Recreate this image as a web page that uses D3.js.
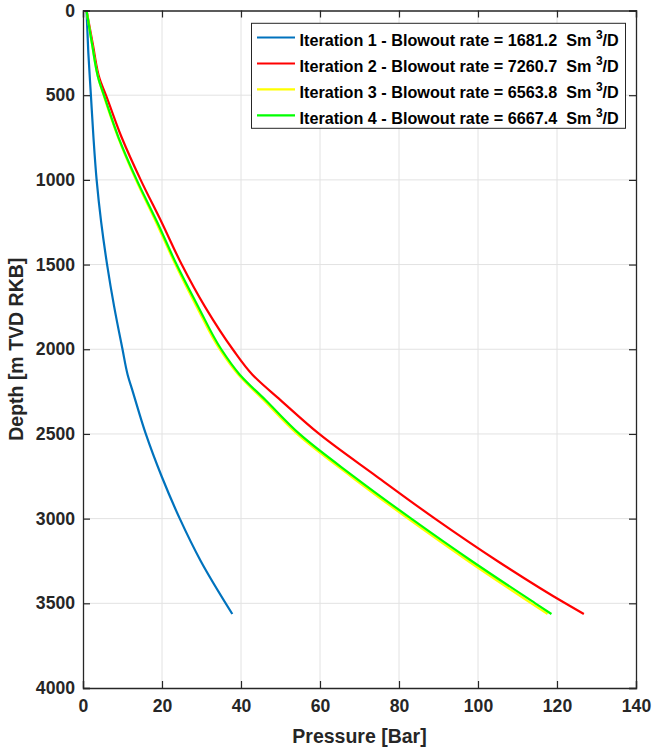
<!DOCTYPE html>
<html>
<head>
<meta charset="utf-8">
<script src="https://cdn.jsdelivr.net/npm/d3@7"></script>
<style>
  html, body { margin: 0; padding: 0; background: #fff; }
  svg { display: block; font-family: "Liberation Sans", Arial, Helvetica, sans-serif; }
</style>
</head>
<body>
<svg id="chart" width="652" height="749"></svg>
<script>
// ---- Data ----
const xTicks = [0, 20, 40, 60, 80, 100, 120, 140];
const yTicks = [0, 500, 1000, 1500, 2000, 2500, 3000, 3500, 4000];

const depthIter1 = [0, 250, 500, 750, 1000, 1250, 1500, 1750, 2000, 2150, 2250, 2500, 2750, 3000, 3250, 3563];
const pressureIter1 = [0.9, 1.35, 2.0, 2.65, 3.45, 4.6, 6.1, 7.9, 10.0, 11.3, 12.6, 15.9, 19.9, 24.5, 29.8, 37.8];

const depthIter = [0, 200, 410, 500, 750, 1000, 1250, 1500, 1750, 2000, 2150, 2300, 2500, 2750, 3000, 3250, 3500, 3563];
const pressureIter2 = [0.9, 2.5, 4.3, 5.8, 9.8, 14.6, 19.9, 25.0, 30.9, 37.9, 42.9, 50.0, 59.8, 74.3, 89.1, 104.9, 122.1, 126.8];
const pressureIter3 = [0.9, 2.3, 4.0, 5.2, 8.9, 13.4, 18.5, 23.4, 28.8, 34.6, 39.3, 45.7, 54.2, 67.8, 82.3, 97.5, 113.5, 117.6];
const pressureIter4 = [0.9, 2.3, 4.0, 5.3, 9.0, 13.6, 18.8, 23.7, 29.2, 35.0, 39.7, 46.2, 54.8, 68.5, 83.1, 98.4, 114.5, 118.6];

const seriesNames = ["Iteration 1", "Iteration 2", "Iteration 3", "Iteration 4"];
const blowoutRates = ["1681.2", "7260.7", "6563.8", "6667.4"];
const seriesColors = ["#0072BD", "#FF0000", "#FFFF00", "#00FF00"];

const series = [
  { depth: depthIter1, p: pressureIter1 },
  { depth: depthIter, p: pressureIter2 },
  { depth: depthIter, p: pressureIter3 },
  { depth: depthIter, p: pressureIter4 }
];

// ---- Layout ----
const L = 83, R = 636, T = 10.5, B = 688;
const svg = d3.select("#chart");
const x = d3.scaleLinear().domain([0, 140]).range([L, R]);
const y = d3.scaleLinear().domain([0, 4000]).range([T, B]);
const axisColor = "#262626";
const tickFont = 17.6;

// grid
const g = svg.append("g");
g.selectAll(".gx").data(xTicks.slice(1, -1)).enter().append("line")
  .attr("x1", d => x(d)).attr("x2", d => x(d)).attr("y1", T).attr("y2", B)
  .attr("stroke", "#e2e2e2").attr("stroke-width", 1);
g.selectAll(".gy").data(yTicks.slice(1, -1)).enter().append("line")
  .attr("y1", d => y(d)).attr("y2", d => y(d)).attr("x1", L).attr("x2", R)
  .attr("stroke", "#e2e2e2").attr("stroke-width", 1);

// lines
const line = d3.line().x(d => x(d[0])).y(d => y(d[1])).curve(d3.curveMonotoneY);
series.forEach((s, i) => {
  const pts = s.depth.map((dep, k) => [s.p[k], dep]);
  svg.append("path").datum(pts)
    .attr("d", line).attr("fill", "none")
    .attr("stroke", seriesColors[i]).attr("stroke-width", 2.2)
    .attr("stroke-linejoin", "round");
});

// axes (ticks inside)
const tickLen = 7;
const bottomAxis = d3.axisBottom(x).tickValues(xTicks).tickSize(-tickLen).tickPadding(12).tickFormat(d3.format("d"));
const topAxis = d3.axisTop(x).tickValues(xTicks).tickSize(-tickLen).tickFormat("");
const leftAxis = d3.axisLeft(y).tickValues(yTicks).tickSize(-tickLen).tickPadding(8).tickFormat(d3.format("d"));
const rightAxis = d3.axisRight(y).tickValues(yTicks).tickSize(-tickLen).tickFormat("");

function style(sel) {
  sel.selectAll("path.domain").attr("stroke", axisColor).attr("stroke-width", 1.3);
  sel.selectAll(".tick line").attr("stroke", axisColor).attr("stroke-width", 1.2);
  sel.selectAll(".tick text").attr("fill", axisColor).attr("font-size", tickFont)
     .attr("font-weight", "bold").attr("font-family", "'Liberation Sans', Arial, sans-serif");
}
style(svg.append("g").attr("transform", `translate(0,${B})`).call(bottomAxis));
style(svg.append("g").attr("transform", `translate(0,${T})`).call(topAxis));
style(svg.append("g").attr("transform", `translate(${L},0)`).call(leftAxis));
style(svg.append("g").attr("transform", `translate(${R},0)`).call(rightAxis));

// axis labels
svg.append("text").attr("x", (L + R) / 2).attr("y", 743)
  .attr("text-anchor", "middle").attr("font-size", 19.5).attr("font-weight", "bold")
  .attr("fill", axisColor).text("Pressure [Bar]");
svg.append("text").attr("transform", `translate(23,${(T + B) / 2}) rotate(-90)`)
  .attr("text-anchor", "middle").attr("font-size", 19.5).attr("font-weight", "bold")
  .attr("fill", axisColor).text("Depth [m TVD RKB]");

// legend
const lg = svg.append("g");
lg.append("rect").attr("x", 251.5).attr("y", 23.3).attr("width", 374).attr("height", 105)
  .attr("fill", "#fff").attr("stroke", axisColor).attr("stroke-width", 1);
const rowY = [37.5, 63.5, 89.3, 115.3];
seriesNames.forEach((name, i) => {
  lg.append("line").attr("x1", 257).attr("x2", 295).attr("y1", rowY[i]).attr("y2", rowY[i])
    .attr("stroke", seriesColors[i]).attr("stroke-width", 2.2);
  const t = lg.append("text").attr("x", 299.5).attr("y", rowY[i] + 8.5)
    .attr("font-size", 16.2).attr("font-weight", "bold").attr("fill", "#000")
    .style("white-space", "pre");
  t.append("tspan").text(`${name} - Blowout rate = ${blowoutRates[i]}  Sm `);
  t.append("tspan").attr("dy", -7).attr("font-size", 12).text("3");
  t.append("tspan").attr("dy", 7).text("/D");
});
</script>
</body>
</html>
